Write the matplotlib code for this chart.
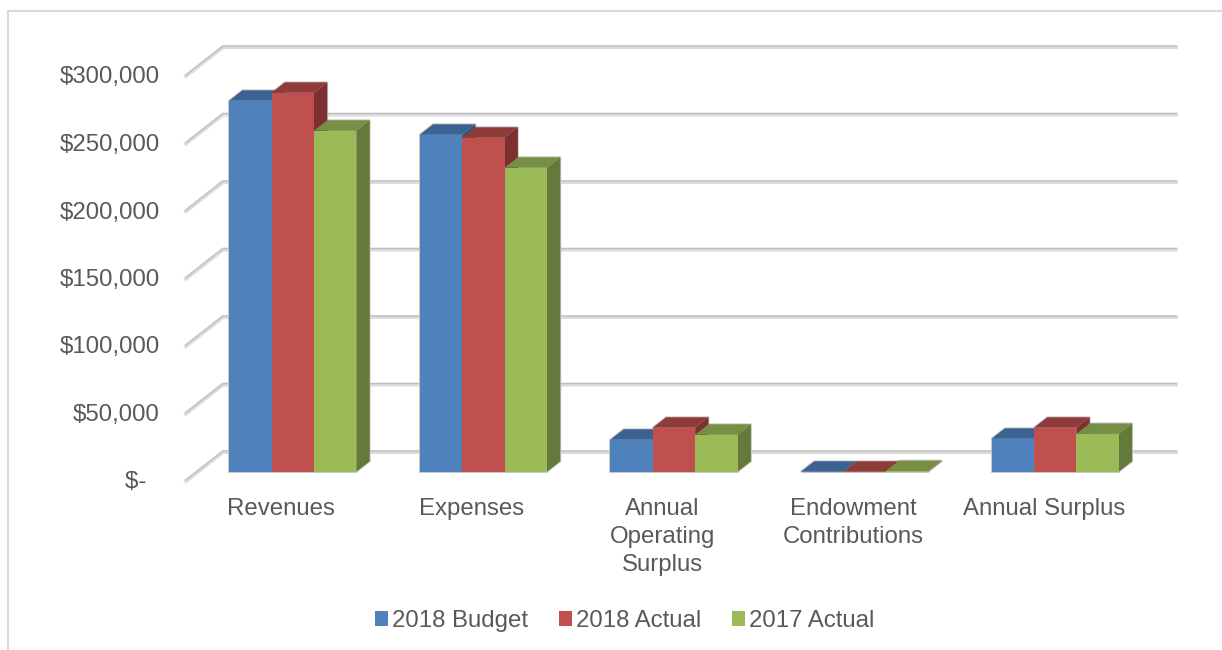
import matplotlib
matplotlib.use("Agg")
import matplotlib.pyplot as plt
from matplotlib.lines import Line2D
from matplotlib.patches import Patch, Polygon
from matplotlib.transforms import ScaledTranslation

plt.rcParams['font.family'] = ['Liberation Sans', 'DejaVu Sans']

categories = ["Revenues", "Expenses", "Annual\nOperating\nSurplus", "Endowment\nContributions", "Annual Surplus"]
budget_2018 = [274800, 249600, 23700, 0, 24400]
actual_2018 = [280700, 247400, 32600, 0, 32600]
actual_2017 = [252600, 225200, 27400, 500, 28000]
series_names = ["2018 Budget", "2018 Actual", "2017 Actual"]
y_ticks = [0, 50000, 100000, 150000, 200000, 250000, 300000]
y_labels = ["$-  ", "$50,000", "$100,000", "$150,000", "$200,000", "$250,000", "$300,000"]

front_colors = ["#4F81BD", "#C0504D", "#9BBB59"]
top_colors = ["#3C6291", "#8F3B39", "#768F44"]
side_colors = ["#335379", "#7C3130", "#657A3A"]
text_color = "#595959"

W, H = 1222, 650
LEFT, RIGHT, BOTTOM, TOP = 186, 1139, 481, 76

fig = plt.figure(figsize=(W / 100, H / 100), dpi=100)
ax = fig.add_axes([LEFT / W, 1 - BOTTOM / H, (RIGHT - LEFT) / W, (BOTTOM - TOP) / H])
ax.set_xlim(-0.5, 4.5)
ax.set_ylim(0, 300000)

# oblique depth of the floor, in data units
depth_x = 37 * 5 / (RIGHT - LEFT)
depth_y = 29 * 300000 / (BOTTOM - TOP)
bar_w = 0.2225
bar_start = 0.32
bar_depth = 0.36
bar_shift = -0.002


def bar_faces(x, v):
    x0 = x + bar_shift + bar_start * depth_x
    y0 = bar_start * depth_y
    x1 = x0 + bar_w
    y1 = y0 + v
    dx = bar_depth * depth_x
    dy = bar_depth * depth_y
    front = [(x0, y0), (x1, y0), (x1, y1), (x0, y1)]
    top = [(x0, y1), (x1, y1), (x1 + dx, y1 + dy), (x0 + dx, y1 + dy)]
    side = [(x1, y0), (x1 + dx, y0 + dy), (x1 + dx, y1 + dy), (x1, y1)]
    return front, top, side


# wall and floor gridlines
for t in y_ticks:
    xs = [-0.5, -0.5 + depth_x, 4.5 + depth_x]
    ys = [t, t + depth_y, t + depth_y]
    ax.plot(xs, ys, color="#dcdcdc", lw=2.9, clip_on=False, zorder=1, solid_joinstyle="miter")
    ax.plot(xs, [y + 700 for y in ys], color="#bdbdbd", lw=0.8, clip_on=False, zorder=1.1, solid_joinstyle="miter")

all_series = [budget_2018, actual_2018, actual_2017]
for i in range(len(categories)):
    offsets = [-1.5 * bar_w, -0.5 * bar_w, 0.5 * bar_w]
    # soft grey outline behind each group
    for s, off in zip(all_series, offsets):
        for face in bar_faces(i + off, s[i]):
            ax.add_patch(Polygon(face, closed=True, fc="none", ec="#c4c4c4", lw=1.3, clip_on=False, zorder=2))
    for n, (s, off) in enumerate(zip(all_series, offsets)):
        front, top, side = bar_faces(i + off, s[i])
        ax.add_patch(Polygon(side, closed=True, fc=side_colors[n], ec="none", clip_on=False, zorder=3 + n))
        ax.add_patch(Polygon(top, closed=True, fc=top_colors[n], ec="none", clip_on=False, zorder=3 + n))
        ax.add_patch(Polygon(front, closed=True, fc=front_colors[n], ec="none", clip_on=False, zorder=3 + n))

for sp in ax.spines.values():
    sp.set_visible(False)
ax.patch.set_visible(False)
ax.set_yticks(y_ticks)
ax.set_yticklabels(y_labels)
ax.set_xticks(range(len(categories)))
ax.set_xticklabels(categories, linespacing=1.37)
ax.tick_params(axis="y", length=0, pad=19, labelsize=17.3, labelcolor=text_color)
ax.tick_params(axis="x", length=0, pad=12, labelsize=17.3, labelcolor=text_color)

# y labels sit a pixel above the gridline ends
up = ScaledTranslation(0, 1 / 100, fig.dpi_scale_trans)
for lab in ax.get_yticklabels():
    lab.set_transform(lab.get_transform() + up)

handles = [Patch(fc=c, ec="none") for c in front_colors]
fig.legend(handles, series_names, loc="center", bbox_to_anchor=(625 / W, 1 - 621 / H), ncol=3,
           frameon=False, fontsize=17.3, labelcolor=text_color, handlelength=0.54, handleheight=0.54,
           handletextpad=0.16, columnspacing=1.29, borderpad=0, borderaxespad=0)

# chart frame, open on the right and bottom
fig.add_artist(Line2D([8 / W, 8 / W, 1], [0, 1 - 11 / H, 1 - 11 / H], color="#d9d9d9", lw=1.5,
                      solid_joinstyle="miter"))

fig.savefig("out.png", dpi=100)
